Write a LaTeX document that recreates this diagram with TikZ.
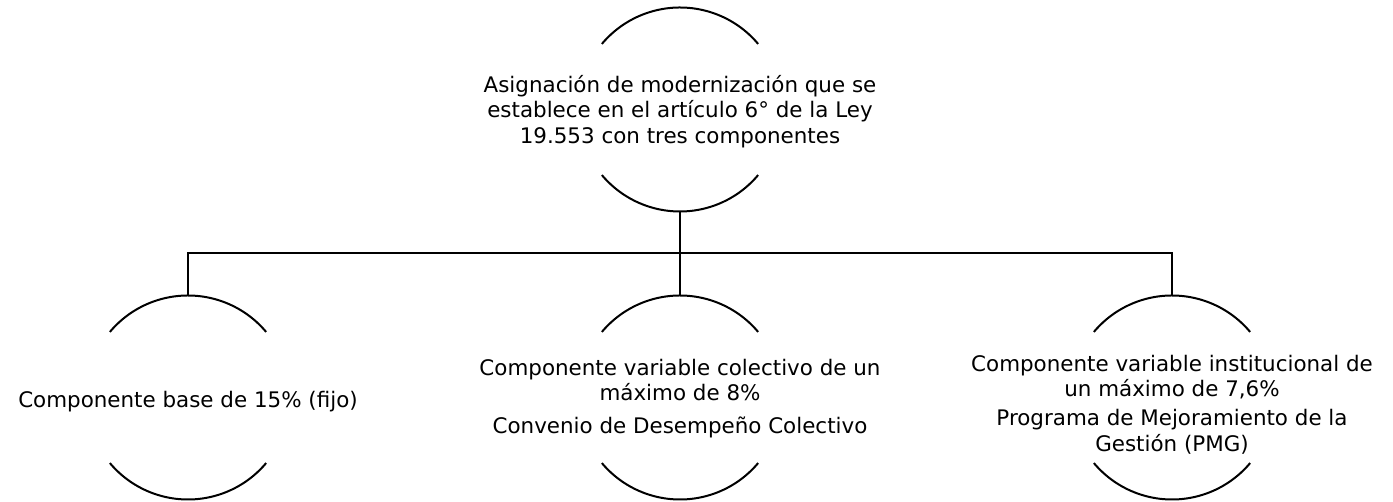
\documentclass[tikz,border=0pt]{standalone}
\usepackage{fontspec}
\setmainfont{DejaVu Sans}
\begin{document}
\begin{tikzpicture}[x=1bp, y=1bp, line width=2bp,
	ring/.style = {circle, minimum size=204bp, inner sep=0pt, outer sep=0pt},
	txt/.style = {align=center, inner sep=0pt, font=\fontsize{21.5}{25.5}\selectfont}]
	\useasboundingbox (0,0) rectangle (1393,502);
	\node[ring, label={[txt, yshift=-2bp]center:{Asignación de modernización que se\\establece en el artículo 6° de la Ley\\19.553 con tres componentes}}] at (680,392.5) (top) {};
	\node[ring, label={[txt, yshift=-4bp]center:{Componente base de 15\% (fijo)}}] at (188,104.5) (base) {};
	\node[ring, label={[txt, yshift=-1bp]center:{Componente variable colectivo de un\\máximo de 8\%\\[8bp]Convenio de Desempeño Colectivo}}] at (680,104.5) (col) {};
	\node[ring, label={[txt, yshift=-7bp]center:{Componente variable institucional de\\un máximo de 7,6\%\\[4bp]Programa de Mejoramiento de la\\Gestión (PMG)}}] at (1172,104.5) (inst) {};
	\foreach \n in {top,base,col,inst} {
		\draw (\n.40) arc[start angle=40, end angle=140, radius=102bp];
		\draw (\n.220) arc[start angle=220, end angle=320, radius=102bp];
	}
	\coordinate (bar) at (680,249);
	\draw (top.south) -- (bar);
	\draw (base.north) |- (bar) -| (inst.north);
	\draw (bar) -- (col.north);
\end{tikzpicture}
\end{document}
